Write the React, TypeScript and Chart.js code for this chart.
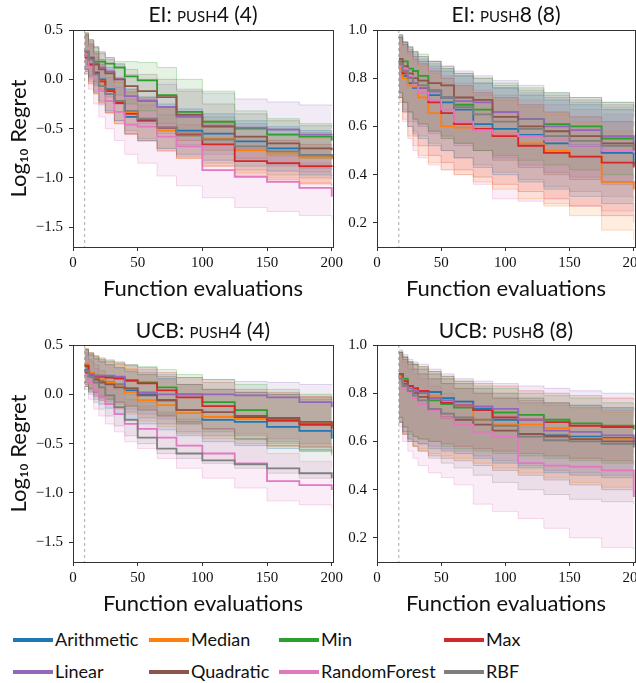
import React, { useEffect, useRef } from 'react';
import { Chart, registerables } from 'chart.js';
Chart.register(...registerables);

const SERIES = ['Arithmetic', 'Median', 'Min', 'Max', 'Linear', 'Quadratic', 'RandomForest', 'RBF'];
const COLORS = ['#1f77b4', '#ff7f0e', '#2ca02c', '#d62728', '#9467bd', '#8c564b', '#e377c2', '#7f7f7f'];
const X_TICKS = [0, 50, 100, 150, 200];
const Y_TICKS_P4 = [-1.5, -1.0, -0.5, 0.0, 0.5];
const Y_TICKS_P8 = [0.2, 0.4, 0.6, 0.8, 1.0];
const GRID_P4 = [9, 12, 16, 20, 25, 32, 40, 50, 65, 80, 100, 125, 150, 175, 200];
const GRID_P8 = [17, 20, 24, 28, 32, 40, 50, 60, 75, 90, 110, 130, 150, 175, 200];

// ---------- EI: push4 ----------
const EI4_MED = [
  [0.25, 0.15, 0.07, 0.0, -0.1, -0.24, -0.38, -0.42, -0.49, -0.52, -0.55, -0.63, -0.70, -0.77, -0.80],
  [0.28, 0.15, 0.05, -0.02, -0.12, -0.22, -0.34, -0.40, -0.52, -0.55, -0.60, -0.72, -0.75, -0.79, -0.81],
  [0.25, 0.21, 0.18, 0.18, 0.16, 0.12, 0.03, -0.01, -0.16, -0.33, -0.43, -0.50, -0.56, -0.58, -0.62],
  [0.22, 0.15, 0.06, -0.02, -0.12, -0.24, -0.35, -0.41, -0.49, -0.56, -0.66, -0.83, -0.85, -0.88, -0.89],
  [0.28, 0.22, 0.16, 0.12, 0.08, 0.0, -0.17, -0.22, -0.28, -0.38, -0.47, -0.49, -0.51, -0.56, -0.57],
  [0.28, 0.22, 0.15, 0.10, 0.06, 0.0, -0.07, -0.12, -0.18, -0.36, -0.48, -0.58, -0.65, -0.70, -0.72],
  [0.25, 0.12, 0.0, -0.12, -0.22, -0.33, -0.46, -0.48, -0.58, -0.68, -0.92, -0.99, -1.04, -1.10, -1.19],
  [0.28, 0.2, 0.05, -0.07, -0.15, -0.22, -0.32, -0.40, -0.49, -0.55, -0.61, -0.68, -0.73, -0.77, -0.78],
];
const EI4_LO = [
  [0.08, -0.02, -0.12, -0.22, -0.32, -0.42, -0.55, -0.62, -0.70, -0.76, -0.82, -0.88, -0.93, -0.97, -1.0],
  [0.08, -0.05, -0.15, -0.24, -0.34, -0.45, -0.55, -0.63, -0.73, -0.80, -0.88, -0.95, -1.0, -1.05, -1.08],
  [0.1, 0.04, -0.02, -0.06, -0.1, -0.16, -0.25, -0.32, -0.45, -0.58, -0.66, -0.72, -0.77, -0.8, -0.82],
  [0.06, -0.04, -0.14, -0.24, -0.34, -0.45, -0.56, -0.62, -0.72, -0.8, -0.88, -0.98, -1.02, -1.06, -1.08],
  [0.1, 0.03, -0.04, -0.1, -0.15, -0.25, -0.38, -0.45, -0.55, -0.66, -0.76, -0.82, -0.88, -0.94, -0.98],
  [0.1, 0.02, -0.06, -0.12, -0.18, -0.25, -0.33, -0.4, -0.5, -0.62, -0.72, -0.8, -0.86, -0.9, -0.92],
  [0.05, -0.1, -0.25, -0.38, -0.5, -0.62, -0.76, -0.85, -0.98, -1.08, -1.2, -1.3, -1.34, -1.38, -1.42],
  [0.1, 0.0, -0.14, -0.26, -0.34, -0.42, -0.52, -0.6, -0.7, -0.78, -0.85, -0.92, -0.97, -1.0, -1.02],
];
const EI4_HI = [
  [0.45, 0.36, 0.28, 0.2, 0.12, 0.02, -0.1, -0.18, -0.25, -0.3, -0.35, -0.42, -0.48, -0.52, -0.55],
  [0.46, 0.38, 0.28, 0.2, 0.1, 0.0, -0.12, -0.2, -0.3, -0.36, -0.42, -0.5, -0.55, -0.6, -0.62],
  [0.47, 0.4, 0.32, 0.26, 0.2, 0.18, 0.18, 0.17, 0.12, 0.0, -0.12, -0.32, -0.4, -0.45, -0.47],
  [0.44, 0.35, 0.26, 0.18, 0.08, -0.03, -0.13, -0.2, -0.28, -0.35, -0.44, -0.58, -0.62, -0.66, -0.68],
  [0.47, 0.4, 0.33, 0.27, 0.22, 0.15, 0.05, 0.0, -0.05, -0.1, -0.14, -0.2, -0.23, -0.26, -0.27],
  [0.47, 0.4, 0.33, 0.28, 0.22, 0.16, 0.1, 0.05, 0.0, -0.12, -0.25, -0.35, -0.42, -0.47, -0.5],
  [0.45, 0.33, 0.22, 0.12, 0.02, -0.08, -0.2, -0.26, -0.36, -0.46, -0.6, -0.7, -0.78, -0.85, -0.92],
  [0.46, 0.38, 0.26, 0.15, 0.07, 0.0, -0.1, -0.18, -0.28, -0.33, -0.38, -0.45, -0.5, -0.54, -0.55],
];

// ---------- EI: push8 ----------
const EI8_MED = [
  [0.85, 0.81, 0.78, 0.76, 0.76, 0.73, 0.70, 0.67, 0.61, 0.59, 0.565, 0.53, 0.52, 0.49, 0.44],
  [0.84, 0.8, 0.77, 0.765, 0.72, 0.655, 0.60, 0.595, 0.585, 0.57, 0.53, 0.50, 0.475, 0.37, 0.34],
  [0.87, 0.87, 0.84, 0.83, 0.81, 0.75, 0.72, 0.69, 0.67, 0.66, 0.63, 0.61, 0.60, 0.55, 0.55],
  [0.86, 0.82, 0.80, 0.78, 0.76, 0.70, 0.655, 0.61, 0.59, 0.56, 0.52, 0.49, 0.475, 0.45, 0.43],
  [0.86, 0.84, 0.81, 0.78, 0.76, 0.745, 0.72, 0.705, 0.70, 0.66, 0.63, 0.60, 0.585, 0.56, 0.53],
  [0.88, 0.85, 0.82, 0.8, 0.79, 0.78, 0.77, 0.72, 0.71, 0.64, 0.60, 0.58, 0.56, 0.53, 0.50],
  [0.85, 0.84, 0.81, 0.77, 0.74, 0.71, 0.67, 0.62, 0.585, 0.57, 0.56, 0.545, 0.52, 0.50, 0.49],
  [0.86, 0.83, 0.80, 0.78, 0.77, 0.75, 0.72, 0.68, 0.65, 0.62, 0.59, 0.56, 0.54, 0.52, 0.50],
];
const EI8_LO = [
  [0.72, 0.66, 0.6, 0.57, 0.55, 0.52, 0.5, 0.47, 0.43, 0.4, 0.37, 0.34, 0.31, 0.28, 0.25],
  [0.7, 0.63, 0.56, 0.52, 0.48, 0.45, 0.42, 0.4, 0.37, 0.34, 0.3, 0.27, 0.23, 0.17, 0.13],
  [0.74, 0.7, 0.66, 0.63, 0.61, 0.58, 0.55, 0.53, 0.5, 0.48, 0.46, 0.44, 0.42, 0.4, 0.38],
  [0.72, 0.66, 0.6, 0.56, 0.52, 0.48, 0.45, 0.42, 0.39, 0.36, 0.33, 0.3, 0.27, 0.23, 0.2],
  [0.74, 0.7, 0.66, 0.62, 0.6, 0.57, 0.55, 0.52, 0.5, 0.47, 0.44, 0.41, 0.39, 0.37, 0.35],
  [0.74, 0.7, 0.66, 0.63, 0.61, 0.58, 0.56, 0.53, 0.5, 0.46, 0.43, 0.4, 0.38, 0.36, 0.33],
  [0.7, 0.62, 0.55, 0.5, 0.47, 0.44, 0.42, 0.40, 0.36, 0.30, 0.29, 0.28, 0.27, 0.25, 0.23],
  [0.72, 0.67, 0.62, 0.58, 0.56, 0.53, 0.5, 0.47, 0.44, 0.41, 0.38, 0.35, 0.33, 0.31, 0.29],
];
const EI8_HI = [
  [0.97, 0.94, 0.91, 0.89, 0.87, 0.85, 0.83, 0.81, 0.78, 0.76, 0.73, 0.71, 0.69, 0.67, 0.64],
  [0.96, 0.93, 0.9, 0.87, 0.85, 0.82, 0.78, 0.76, 0.73, 0.71, 0.68, 0.65, 0.62, 0.58, 0.55],
  [0.98, 0.95, 0.93, 0.91, 0.9, 0.87, 0.84, 0.82, 0.8, 0.78, 0.76, 0.74, 0.72, 0.7, 0.68],
  [0.97, 0.94, 0.91, 0.88, 0.86, 0.83, 0.8, 0.77, 0.74, 0.72, 0.69, 0.66, 0.64, 0.62, 0.6],
  [0.98, 0.95, 0.93, 0.91, 0.89, 0.87, 0.85, 0.83, 0.81, 0.79, 0.77, 0.74, 0.72, 0.7, 0.68],
  [0.98, 0.95, 0.93, 0.91, 0.89, 0.87, 0.85, 0.82, 0.8, 0.77, 0.75, 0.73, 0.71, 0.69, 0.67],
  [0.97, 0.95, 0.92, 0.89, 0.87, 0.84, 0.81, 0.78, 0.75, 0.73, 0.71, 0.69, 0.67, 0.65, 0.63],
  [0.97, 0.95, 0.92, 0.9, 0.88, 0.86, 0.84, 0.81, 0.78, 0.76, 0.74, 0.72, 0.7, 0.68, 0.66],
];

// ---------- UCB: push4 ----------
const UCB4_MED = [
  [0.25, 0.2, 0.16, 0.14, 0.12, 0.1, 0.04, 0.0, -0.06, -0.16, -0.26, -0.28, -0.33, -0.37, -0.45],
  [0.31, 0.22, 0.17, 0.15, 0.12, 0.09, 0.02, -0.06, -0.11, -0.19, -0.23, -0.25, -0.26, -0.28, -0.3],
  [0.28, 0.2, 0.19, 0.18, 0.18, 0.17, 0.14, 0.12, 0.07, 0.0, -0.08, -0.16, -0.26, -0.3, -0.34],
  [0.29, 0.2, 0.18, 0.18, 0.17, 0.16, 0.14, 0.11, 0.04, -0.03, -0.12, -0.23, -0.27, -0.31, -0.36],
  [0.24, 0.2, 0.19, 0.19, 0.19, 0.18, 0.06, 0.02, 0.0, 0.0, 0.0, -0.01, -0.03, -0.08, -0.13],
  [0.22, 0.18, 0.15, 0.12, 0.1, 0.07, 0.06, -0.01, -0.06, -0.16, -0.18, -0.22, -0.24, -0.28, -0.31],
  [0.2, 0.12, 0.04, -0.03, -0.1, -0.2, -0.3, -0.35, -0.44, -0.52, -0.6, -0.7, -0.88, -0.92, -0.97],
  [0.24, 0.18, 0.12, 0.07, -0.01, -0.13, -0.26, -0.44, -0.55, -0.6, -0.67, -0.71, -0.75, -0.8, -0.85],
];
const UCB4_LO = [
  [0.08, 0.02, -0.05, -0.1, -0.14, -0.2, -0.25, -0.3, -0.36, -0.42, -0.48, -0.52, -0.55, -0.58, -0.62],
  [0.1, 0.04, -0.02, -0.06, -0.1, -0.15, -0.2, -0.27, -0.33, -0.4, -0.45, -0.5, -0.53, -0.56, -0.6],
  [0.12, 0.06, 0.02, -0.02, -0.05, -0.08, -0.12, -0.16, -0.22, -0.3, -0.38, -0.45, -0.52, -0.57, -0.62],
  [0.12, 0.06, 0.02, -0.02, -0.05, -0.08, -0.12, -0.16, -0.22, -0.28, -0.35, -0.42, -0.48, -0.53, -0.58],
  [0.1, 0.05, 0.0, -0.04, -0.07, -0.1, -0.15, -0.2, -0.25, -0.3, -0.35, -0.4, -0.45, -0.5, -0.55],
  [0.08, 0.03, -0.02, -0.06, -0.1, -0.14, -0.18, -0.24, -0.3, -0.38, -0.42, -0.46, -0.5, -0.54, -0.58],
  [0.05, -0.05, -0.15, -0.22, -0.3, -0.38, -0.48, -0.55, -0.65, -0.75, -0.85, -0.95, -1.08, -1.12, -1.15],
  [0.08, 0.0, -0.08, -0.15, -0.22, -0.32, -0.42, -0.5, -0.6, -0.65, -0.7, -0.75, -0.8, -0.85, -0.9],
];
const UCB4_HI = [
  [0.45, 0.4, 0.36, 0.33, 0.3, 0.27, 0.23, 0.2, 0.16, 0.1, 0.05, 0.02, 0.0, -0.05, -0.12],
  [0.46, 0.42, 0.38, 0.35, 0.33, 0.3, 0.26, 0.2, 0.15, 0.1, 0.05, 0.02, 0.0, -0.03, -0.05],
  [0.46, 0.42, 0.39, 0.36, 0.34, 0.32, 0.3, 0.28, 0.25, 0.2, 0.15, 0.1, 0.05, 0.0, -0.08],
  [0.46, 0.42, 0.38, 0.35, 0.33, 0.31, 0.29, 0.27, 0.22, 0.17, 0.12, 0.05, 0.02, -0.02, -0.06],
  [0.46, 0.42, 0.39, 0.37, 0.35, 0.33, 0.3, 0.25, 0.2, 0.17, 0.15, 0.13, 0.12, 0.1, 0.09],
  [0.45, 0.4, 0.36, 0.33, 0.3, 0.27, 0.25, 0.22, 0.18, 0.1, 0.05, 0.02, 0.0, -0.03, -0.06],
  [0.4, 0.33, 0.26, 0.2, 0.13, 0.05, -0.05, -0.12, -0.2, -0.28, -0.35, -0.45, -0.6, -0.68, -0.75],
  [0.42, 0.35, 0.3, 0.24, 0.18, 0.1, 0.0, -0.08, -0.18, -0.25, -0.35, -0.45, -0.52, -0.56, -0.6],
];

// ---------- UCB: push8 ----------
const UCB8_MED = [
  [0.87, 0.85, 0.83, 0.82, 0.81, 0.805, 0.78, 0.765, 0.735, 0.69, 0.63, 0.625, 0.62, 0.615, 0.60],
  [0.87, 0.85, 0.83, 0.81, 0.8, 0.79, 0.76, 0.75, 0.69, 0.67, 0.67, 0.655, 0.615, 0.61, 0.60],
  [0.88, 0.86, 0.83, 0.81, 0.8, 0.77, 0.755, 0.74, 0.73, 0.72, 0.71, 0.69, 0.675, 0.665, 0.65],
  [0.88, 0.85, 0.83, 0.82, 0.81, 0.78, 0.76, 0.75, 0.73, 0.70, 0.69, 0.68, 0.665, 0.66, 0.66],
  [0.86, 0.84, 0.82, 0.81, 0.8, 0.78, 0.77, 0.75, 0.745, 0.735, 0.69, 0.645, 0.64, 0.625, 0.60],
  [0.88, 0.84, 0.81, 0.8, 0.785, 0.73, 0.70, 0.69, 0.67, 0.645, 0.63, 0.62, 0.61, 0.6, 0.585],
  [0.86, 0.82, 0.80, 0.78, 0.755, 0.73, 0.70, 0.67, 0.64, 0.62, 0.51, 0.50, 0.495, 0.48, 0.37],
  [0.86, 0.83, 0.81, 0.79, 0.77, 0.735, 0.715, 0.70, 0.69, 0.665, 0.62, 0.605, 0.60, 0.59, 0.575],
];
const UCB8_LO = [
  [0.68, 0.64, 0.61, 0.6, 0.59, 0.57, 0.56, 0.55, 0.53, 0.51, 0.49, 0.47, 0.46, 0.45, 0.44],
  [0.68, 0.63, 0.6, 0.58, 0.57, 0.55, 0.54, 0.53, 0.51, 0.49, 0.47, 0.45, 0.43, 0.41, 0.4],
  [0.7, 0.66, 0.63, 0.62, 0.61, 0.6, 0.58, 0.57, 0.56, 0.55, 0.54, 0.53, 0.52, 0.51, 0.5],
  [0.7, 0.66, 0.64, 0.62, 0.61, 0.6, 0.59, 0.58, 0.57, 0.56, 0.55, 0.54, 0.53, 0.52, 0.51],
  [0.68, 0.64, 0.61, 0.6, 0.59, 0.58, 0.57, 0.56, 0.54, 0.52, 0.5, 0.48, 0.47, 0.46, 0.45],
  [0.68, 0.63, 0.6, 0.58, 0.56, 0.54, 0.53, 0.52, 0.5, 0.48, 0.46, 0.44, 0.42, 0.4, 0.38],
  [0.66, 0.6, 0.56, 0.53, 0.5, 0.47, 0.45, 0.42, 0.34, 0.31, 0.28, 0.24, 0.2, 0.16, 0.15],
  [0.68, 0.63, 0.6, 0.58, 0.56, 0.53, 0.51, 0.49, 0.46, 0.43, 0.4, 0.38, 0.36, 0.35, 0.34],
];
const UCB8_HI = [
  [0.97, 0.95, 0.93, 0.92, 0.9, 0.88, 0.86, 0.84, 0.82, 0.8, 0.78, 0.76, 0.75, 0.74, 0.73],
  [0.97, 0.95, 0.93, 0.92, 0.9, 0.88, 0.86, 0.84, 0.82, 0.8, 0.78, 0.76, 0.74, 0.72, 0.7],
  [0.97, 0.95, 0.93, 0.92, 0.91, 0.89, 0.87, 0.85, 0.83, 0.82, 0.8, 0.79, 0.78, 0.76, 0.74],
  [0.97, 0.95, 0.93, 0.92, 0.91, 0.89, 0.87, 0.85, 0.84, 0.83, 0.81, 0.8, 0.79, 0.78, 0.77],
  [0.98, 0.96, 0.94, 0.93, 0.92, 0.9, 0.88, 0.86, 0.85, 0.84, 0.83, 0.82, 0.81, 0.8, 0.79],
  [0.97, 0.94, 0.92, 0.9, 0.88, 0.86, 0.84, 0.82, 0.8, 0.78, 0.77, 0.76, 0.75, 0.74, 0.73],
  [0.96, 0.93, 0.9, 0.88, 0.86, 0.83, 0.8, 0.77, 0.74, 0.71, 0.66, 0.63, 0.61, 0.59, 0.55],
  [0.97, 0.94, 0.92, 0.9, 0.88, 0.86, 0.84, 0.82, 0.8, 0.78, 0.76, 0.75, 0.74, 0.73, 0.72],
];

const SANS = 'Lato, "Open Sans", sans-serif';
const SERIF = '"Liberation Serif", "DejaVu Serif", serif';

function rgba(hex: string, a: number) {
  const n = parseInt(hex.slice(1), 16);
  return `rgba(${(n >> 16) & 255},${(n >> 8) & 255},${n & 255},${a})`;
}

function fmtTick(v: number) {
  const s = Math.abs(v).toFixed(1);
  return v < -1e-9 ? '\u2212' + s : s;
}

type PanelProps = {
  left: number; top: number; width: number; height: number;
  yWidth: number; padRight: number;
  grid: number[]; med: number[][]; lo: number[][]; hi: number[][];
  yMin: number; yMax: number; yTicks: number[];
  showYTitle: boolean;
};

function Panel(p: PanelProps) {
  const ref = useRef<HTMLCanvasElement | null>(null);
  useEffect(() => {
    if (!ref.current) return;
    const datasets: any[] = [];
    for (let i = 0; i < SERIES.length; i++) {
      const c = COLORS[i];
      datasets.push({
        label: SERIES[i] + ' lower',
        data: p.grid.map((x, j) => ({ x, y: p.lo[i][j] })),
        borderColor: rgba(c, 0.28), borderWidth: 1,
        pointRadius: 0, stepped: true, fill: false, order: 20,
      });
      datasets.push({
        label: SERIES[i] + ' upper',
        data: p.grid.map((x, j) => ({ x, y: p.hi[i][j] })),
        borderColor: rgba(c, 0.28), borderWidth: 1,
        backgroundColor: rgba(c, 0.13),
        pointRadius: 0, stepped: true, fill: '-1', order: 20,
      });
    }
    for (let i = 0; i < SERIES.length; i++) {
      datasets.push({
        label: SERIES[i],
        data: p.grid.map((x, j) => ({ x, y: p.med[i][j] })),
        borderColor: COLORS[i], borderWidth: 1.8,
        pointRadius: 0, stepped: true, fill: false, order: 10 - i,
      });
    }
    const startX = p.grid[0];
    const startLine = {
      id: 'startLine',
      beforeDatasetsDraw(chart: any) {
        const { ctx, chartArea, scales } = chart;
        const px = scales.x.getPixelForValue(startX);
        ctx.save();
        ctx.strokeStyle = 'rgba(150,150,150,0.8)';
        ctx.lineWidth = 1;
        ctx.setLineDash([3, 3]);
        ctx.beginPath();
        ctx.moveTo(px, chartArea.top);
        ctx.lineTo(px, chartArea.bottom);
        ctx.stroke();
        ctx.restore();
      },
    };
    const frame = {
      id: 'frame',
      afterDraw(chart: any) {
        const { ctx, chartArea } = chart;
        ctx.save();
        ctx.strokeStyle = '#333';
        ctx.lineWidth = 1;
        ctx.strokeRect(Math.round(chartArea.left) + 0.5, Math.round(chartArea.top) + 0.5,
          Math.round(chartArea.right - chartArea.left), Math.round(chartArea.bottom - chartArea.top));
        ctx.restore();
      },
    };
    const tickFont = { family: SERIF, size: 15 };
    const chart = new Chart(ref.current, {
      type: 'line',
      data: { datasets },
      plugins: [startLine, frame],
      options: {
        animation: false,
        responsive: false,
        events: [],
        layout: { padding: { top: 30, right: p.padRight, left: 0, bottom: 0 } },
        plugins: { legend: { display: false }, tooltip: { enabled: false } },
        scales: {
          x: {
            type: 'linear', min: 0, max: 201,
            afterBuildTicks: (s: any) => { s.ticks = X_TICKS.map((v) => ({ value: v })); },
            afterFit: (s: any) => { s.height = 58; },
            ticks: { font: tickFont, color: '#111', padding: 3, maxRotation: 0, autoSkip: false, callback: (v: any) => String(v) },
            grid: { display: true, drawOnChartArea: false, drawTicks: true, tickLength: 4, color: '#333' },
            border: { display: false },
            title: { display: true, text: 'Function evaluations', color: '#111', font: { family: SANS, size: 22 }, padding: { top: 0, bottom: 3 } },
          },
          y: {
            type: 'linear', min: p.yMin, max: p.yMax,
            afterBuildTicks: (s: any) => { s.ticks = p.yTicks.map((v) => ({ value: v })); },
            afterFit: (s: any) => { s.width = p.yWidth; },
            ticks: { font: tickFont, color: '#111', padding: 6, autoSkip: false, callback: (v: any) => fmtTick(Number(v)) },
            grid: { display: true, drawOnChartArea: false, drawTicks: true, tickLength: 4, color: '#333' },
            border: { display: false },
            title: { display: p.showYTitle, text: 'Log\u2081\u2080 Regret', color: '#111', font: { family: SANS, size: 22 }, padding: { top: 6, bottom: 0 } },
          },
        },
      } as any,
    });
    return () => chart.destroy();
  }, []);
  return (
    <canvas ref={ref} width={p.width} height={p.height}
      style={{ position: 'absolute', left: p.left, top: p.top, width: p.width, height: p.height }} />
  );
}

function Title({ cx, top, pre, sc, post }: { cx: number; top: number; pre: string; sc: string; post: string }) {
  return (
    <div style={{ position: 'absolute', left: cx - 130, top, width: 260, textAlign: 'center', fontFamily: SANS, fontSize: 21, lineHeight: '28px', color: '#111', whiteSpace: 'nowrap' }}>
      {pre}<span style={{ fontVariant: 'small-caps' }}>{sc}</span>{post}
    </div>
  );
}

const LEGEND_COLS = [13, 149, 279, 444];

export default function App() {
  return (
    <div style={{ position: 'fixed', left: 0, top: 0, width: 636, height: 683, overflow: 'hidden', background: '#fff' }}>
      <Panel left={0} top={0} width={350} height={305} yWidth={73} padRight={17}
        grid={GRID_P4} med={EI4_MED} lo={EI4_LO} hi={EI4_HI} yMin={-1.7} yMax={0.5} yTicks={Y_TICKS_P4} showYTitle={true} />
      <Panel left={320} top={0} width={340} height={305} yWidth={57} padRight={25}
        grid={GRID_P8} med={EI8_MED} lo={EI8_LO} hi={EI8_HI} yMin={0.1} yMax={1.0} yTicks={Y_TICKS_P8} showYTitle={false} />
      <Panel left={0} top={315} width={350} height={305} yWidth={73} padRight={17}
        grid={GRID_P4} med={UCB4_MED} lo={UCB4_LO} hi={UCB4_HI} yMin={-1.7} yMax={0.5} yTicks={Y_TICKS_P4} showYTitle={true} />
      <Panel left={320} top={315} width={340} height={305} yWidth={57} padRight={25}
        grid={GRID_P8} med={UCB8_MED} lo={UCB8_LO} hi={UCB8_HI} yMin={0.1} yMax={1.0} yTicks={Y_TICKS_P8} showYTitle={false} />
      <Title cx={203} top={0} pre="EI: " sc="push4" post=" (4)" />
      <Title cx={506} top={0} pre="EI: " sc="push8" post=" (8)" />
      <Title cx={203} top={316} pre="UCB: " sc="push4" post=" (4)" />
      <Title cx={506} top={316} pre="UCB: " sc="push8" post=" (8)" />
      {SERIES.map((name, i) => {
        const row = Math.floor(i / 4);
        const col = i % 4;
        const x = LEGEND_COLS[col];
        const lineY = row === 0 ? 638 : 670;
        return (
          <React.Fragment key={name}>
            <div style={{ position: 'absolute', left: x, top: lineY, width: 40, height: 4, background: COLORS[i] }} />
            <div style={{ position: 'absolute', left: x + 42, top: lineY - 10, fontFamily: SANS, fontSize: 18, lineHeight: '22px', color: '#111', whiteSpace: 'nowrap' }}>{name}</div>
          </React.Fragment>
        );
      })}
    </div>
  );
}
